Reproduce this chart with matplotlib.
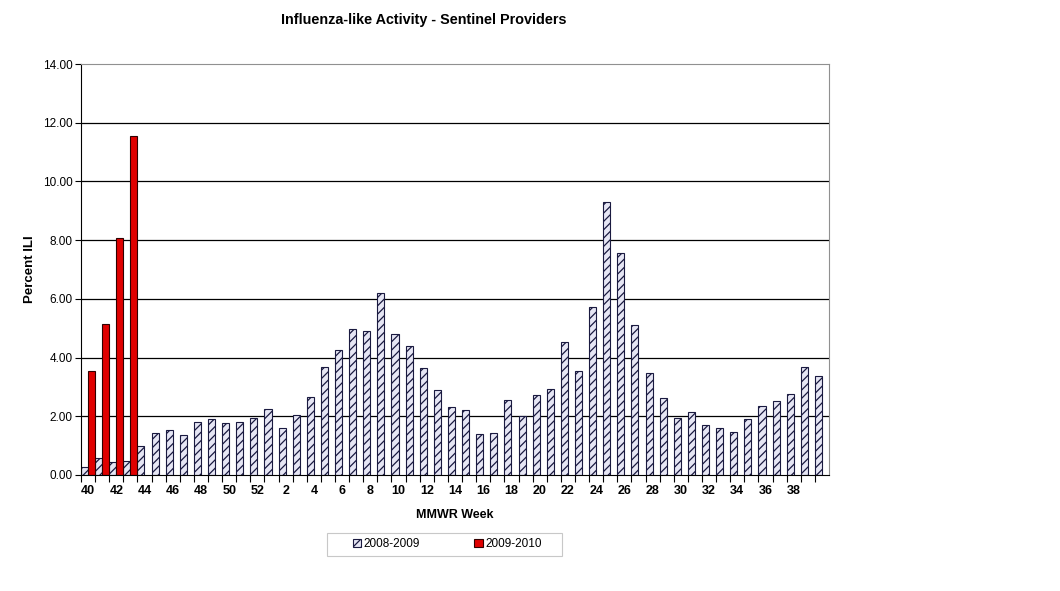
import numpy as np
import matplotlib
matplotlib.use("Agg")
import matplotlib.pyplot as plt
from matplotlib.patches import Rectangle
from matplotlib.ticker import FixedLocator, FormatStrFormatter

plt.rcParams['font.family'] = ['Liberation Sans', 'DejaVu Sans']
plt.rcParams['hatch.linewidth'] = 0.9

# MMWR weeks 40..52, 1..39 plus one trailing unlabeled slot
weeks = [str(w) for w in range(40, 53)] + [str(w) for w in range(1, 40)] + [""]

season_0809 = [0.26, 0.58, 0.44, 0.48, 0.99, 1.42, 1.53, 1.36, 1.81, 1.91,
               1.77, 1.81, 1.94, 2.25, 1.59, 2.03, 2.67, 3.69, 4.27, 4.98,
               4.89, 6.20, 4.81, 4.40, 3.65, 2.91, 2.33, 2.23, 1.41, 1.44,
               2.56, 2.02, 2.71, 2.92, 4.52, 3.53, 5.71, 9.30, 7.57, 5.10,
               3.49, 2.62, 1.93, 2.14, 1.69, 1.59, 1.45, 1.90, 2.34, 2.53,
               2.75, 3.68, 3.37]
season_0910 = [3.55, 5.15, 8.07, 11.56]

x = np.arange(len(weeks))

fig = plt.figure(figsize=(10.6, 5.91), dpi=100)
ax = fig.add_axes([0.0764, 0.1963, 0.7057, 0.6954])

ax.bar(x - 0.25, season_0809, width=0.5, color='#e6e6f4', edgecolor='#1a1a40',
       linewidth=0.8, hatch='////', label='2008-2009')
ax.bar(x[:len(season_0910)] + 0.25, season_0910, width=0.5, color='#e00000',
       edgecolor='#300000', linewidth=0.8, label='2009-2010')

ax.set_xlim(-0.5, len(weeks) - 0.5)
ax.set_ylim(0, 14)
ax.set_yticks(np.arange(0, 15, 2))
ax.yaxis.set_major_formatter(FormatStrFormatter('%.2f'))
ax.tick_params(axis='y', direction='out', length=4, width=0.8, labelsize=8.5, pad=2)

ax.set_xticks(x[::2])
ax.set_xticklabels(weeks[::2], fontweight='bold')
ax.xaxis.set_minor_locator(FixedLocator(x - 0.5))
ax.tick_params(axis='x', which='major', length=0, labelsize=9, pad=7)
ax.tick_params(axis='x', which='minor', direction='out', length=5, width=0.8)

ax.set_axisbelow(True)
for yv in range(2, 14, 2):
    ax.axhline(yv, color='black', linewidth=0.9, zorder=0.5)

ax.spines['left'].set_color('black')
ax.spines['bottom'].set_color('black')
ax.spines['top'].set_color('#909090')
ax.spines['right'].set_color('#909090')

ax.set_ylabel('Percent ILI', fontsize=9.5, fontweight='bold')
ax.yaxis.set_label_coords(-0.060, 0.5)
ax.set_xlabel('MMWR Week', fontsize=9, fontweight='bold', labelpad=9)

fig.text(0.40, 0.966, 'Influenza-like Activity - Sentinel Providers',
         ha='center', va='center', fontsize=10.4, fontweight='bold')

# legend box drawn separately so the entries sit inside it like the original
fig.patches.append(Rectangle((327 / 1060, 1 - 556 / 591), 235 / 1060, 23 / 591,
                             transform=fig.transFigure, facecolor='white',
                             edgecolor='#c8c8c8', linewidth=0.8))
fig.legend(loc='center', bbox_to_anchor=(0.422, 0.0795), ncol=2,
           fontsize=8.5, frameon=False,
           handlelength=0.7, handleheight=0.7, handletextpad=0.25,
           columnspacing=4.6)

fig.savefig('out.png', dpi=100, facecolor='white')
